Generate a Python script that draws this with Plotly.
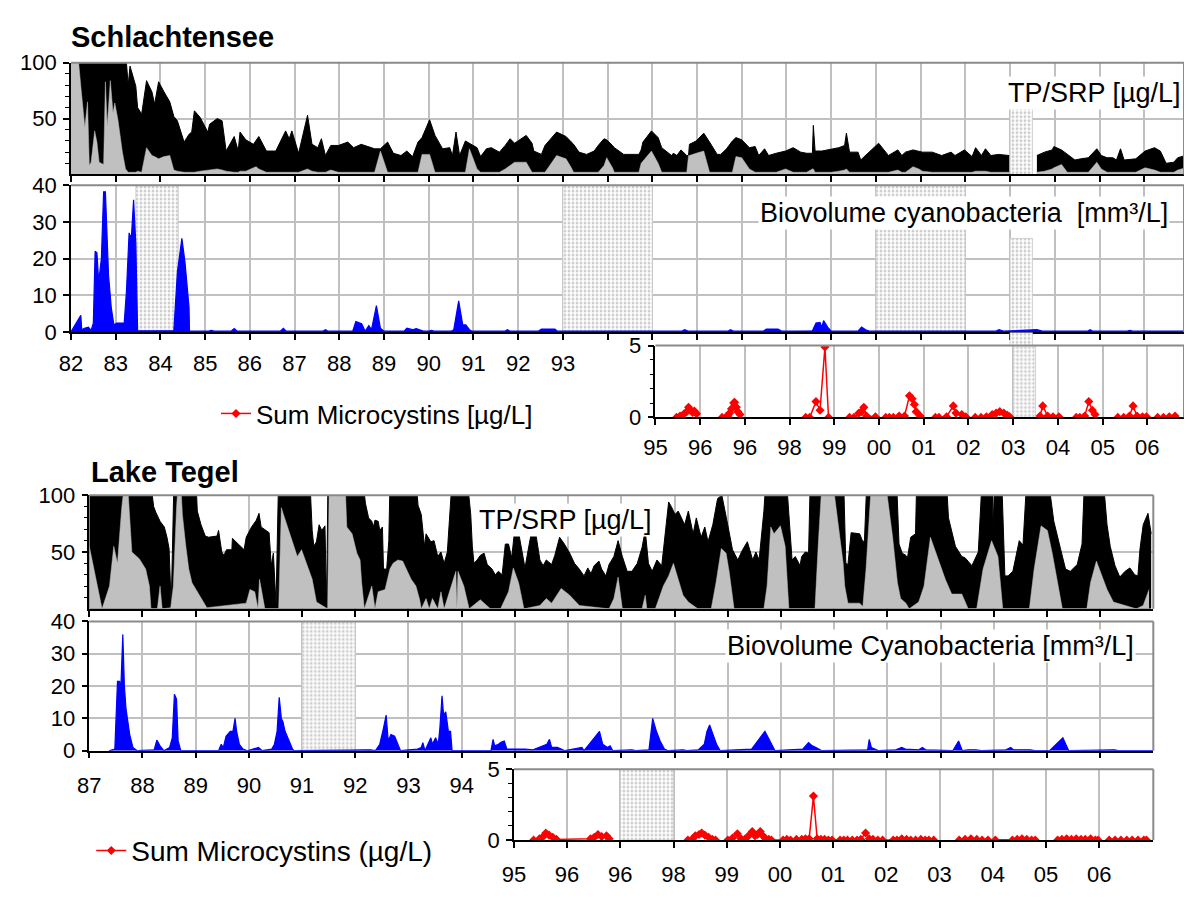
import plotly.graph_objects as go

# ---------------------------------------------------------------- data
# Schlachtensee: TP (black) and SRP (grey) [µg/L], same sampling dates
sch_tp_year = [1982.00, 1982.16, 1982.22, 1982.31, 1982.37, 1982.41, 1982.45, 1982.53, 1982.58, 1982.63,
               1982.73, 1982.77, 1982.81, 1982.88, 1982.94, 1982.98, 1983.05, 1983.15, 1983.22, 1983.28,
               1983.32, 1983.45, 1983.49, 1983.58, 1983.69, 1983.81, 1983.87, 1983.96, 1984.08, 1984.21,
               1984.30, 1984.38, 1984.53, 1984.64, 1984.70, 1984.76, 1984.89, 1985.06, 1985.10, 1985.27,
               1985.38, 1985.47, 1985.65, 1985.74, 1985.78, 1985.91, 1986.08, 1986.14, 1986.20, 1986.37,
               1986.58, 1986.80, 1986.88, 1986.94, 1987.09, 1987.29, 1987.39, 1987.52, 1987.60, 1987.69,
               1987.81, 1987.98, 1988.19, 1988.32, 1988.49, 1988.79, 1988.92, 1989.08, 1989.21, 1989.38,
               1989.51, 1989.64, 1989.76, 1989.85, 1990.02, 1990.14, 1990.31, 1990.47, 1990.53, 1990.61,
               1990.69, 1990.82, 1990.91, 1991.08, 1991.16, 1991.29, 1991.40, 1991.58, 1991.71, 1991.82,
               1991.92, 1992.18, 1992.31, 1992.35, 1992.52, 1992.60, 1992.86, 1993.07, 1993.19, 1993.24,
               1993.36, 1993.53, 1993.70, 1993.79, 1993.92, 1993.98, 1994.11, 1994.15, 1994.36, 1994.70,
               1994.75, 1994.79, 1994.98, 1995.13, 1995.21, 1995.43, 1995.47, 1995.55, 1995.64, 1995.77,
               1995.81, 1995.83, 1995.98, 1996.15, 1996.28, 1996.45, 1996.53, 1996.66, 1996.79, 1996.87,
               1997.00, 1997.17, 1997.30, 1997.38, 1997.51, 1997.60, 1997.77, 1997.98, 1998.15, 1998.32,
               1998.45, 1998.58, 1998.60, 1998.64, 1998.79, 1999.00, 1999.17, 1999.30, 1999.34, 1999.41,
               1999.60, 1999.66, 1999.85, 2000.06, 2000.28, 2000.49, 2000.58, 2000.66, 2000.83, 2000.96,
               2001.04, 2001.26, 2001.47, 2001.68, 2001.77, 2001.98, 2002.15, 2002.23, 2002.36, 2002.45,
               2002.57, 2002.74, 2002.98, 2003.25, 2003.60, 2003.77, 2003.94, 2003.98, 2004.15, 2004.28,
               2004.32, 2004.45, 2004.58, 2004.75, 2004.94, 2005.04, 2005.17, 2005.30, 2005.38, 2005.47,
               2005.55, 2005.81, 2006.02, 2006.23, 2006.36, 2006.49, 2006.66, 2006.75, 2006.92, 2007.00]
sch_tp = [130, 130, 130, 130, 130, 130, 130, 130, 130, 130,
          130, 130, 130, 130, 130, 130, 130, 130, 110, 80,
          97, 79, 60, 54, 84, 74, 63, 83, 74, 65,
          52, 48, 29, 36, 38, 57, 51, 38, 45, 50,
          48, 21, 34, 21, 38, 31, 27, 30, 34, 21,
          21, 39, 32, 39, 19, 53, 27, 24, 32, 17,
          26, 26, 29, 24, 27, 23, 23, 29, 19, 17,
          21, 16, 29, 33, 49, 35, 23, 24, 17, 38,
          17, 30, 28, 24, 16, 23, 24, 20, 26, 32,
          28, 35, 28, 21, 18, 26, 38, 34, 29, 27,
          20, 18, 21, 26, 32, 31, 26, 24, 18, 18,
          22, 29, 39, 33, 24, 17, 19, 17, 22, 17,
          17, 27, 30, 37, 29, 18, 18, 23, 30, 33,
          31, 24, 25, 17, 23, 17, 19, 21, 24, 20,
          19, 19, 44, 21, 21, 23, 24, 26, 37, 20,
          20, 13, 20, 28, 17, 22, 17, 20, 22, 21,
          20, 20, 17, 20, 17, 22, 16, 24, 17, 23,
          17, 18, 17, None, 17, 20, 22, 25, 22, 18,
          17, 13, 14, 15, 23, 17, 15, 15, 13, 23,
          13, 14, 21, 24, 21, 10, 11, 15, 17, 29]
sch_srp = [110, 105, 79, 42, 65, 8, 11, 39, 29, 11,
           9, 83, 43, 84, 55, 64, 49, 20, 5, 2,
           2, 2, 3, 2, 24, 17, 16, 14, 16, 17,
           4, 3, 2, 2, 2, 2, 3, 4, 4, 5,
           4, 3, 2, 2, 3, 3, 6, 7, 5, 2,
           2, 2, 2, 2, 2, 5, 3, 2, 2, 2,
           4, 2, 2, 2, 2, 2, 21, 2, 2, 2,
           2, 2, 2, 18, 18, 2, 2, 2, 2, 2,
           2, 2, 23, 5, 2, 2, 2, 2, 5, 8,
           11, 11, 2, 2, 2, 2, 17, 14, 6, 2,
           2, 2, 2, 2, 8, 15, 6, 2, 2, 2,
           10, 12, 21, 10, 2, 2, 2, 2, 2, 2,
           17, 17, 19, 21, 2, 2, 2, 2, 2, 16,
           15, 5, 2, 2, 2, 2, 2, 5, 2, 2,
           2, 5, 5, 2, 2, 2, 3, 4, 5, 2,
           2, 2, 2, 2, 2, 4, 2, 2, 7, 5,
           3, 2, 2, 2, 2, 2, 2, 3, 3, 3,
           2, 2, 2, None, 2, 3, 5, 6, 9, 2,
           2, 2, 2, 2, 11, 5, 2, 2, 2, 2,
           2, 2, 6, 4, 2, 2, 2, 4, 6, 8]

# Schlachtensee: biovolume cyanobacteria [mm³/L]
sch_bio_year = [1982.00, 1982.22, 1982.24, 1982.30, 1982.39, 1982.45, 1982.50, 1982.54, 1982.58, 1982.62,
                1982.68, 1982.73, 1982.77, 1982.84, 1982.90, 1982.96, 1983.02, 1983.19, 1983.24, 1983.30,
                1983.35, 1983.40, 1983.45, 1983.49, 1984.30, 1984.38, 1984.48, 1984.55, 1984.64, 1984.65,
                1985.08, 1985.14, 1985.20, 1985.58, 1985.65, 1985.72, 1986.68, 1986.75, 1986.81, 1987.63,
                1987.69, 1987.75, 1988.30, 1988.37, 1988.50, 1988.58, 1988.66, 1988.72, 1988.83, 1988.92,
                1989.00, 1989.45, 1989.51, 1989.64, 1989.72, 1989.81, 1989.88, 1990.00, 1990.06, 1990.12,
                1990.50, 1990.56, 1990.67, 1990.76, 1990.83, 1990.91, 1990.97, 1991.70, 1991.76, 1991.82,
                1992.45, 1992.52, 1992.82, 1992.88, 1995.04, 1995.66, 1995.72, 1995.80, 1996.69, 1996.75,
                1996.82, 1997.48, 1997.55, 1997.81, 1997.90, 1998.22, 1998.28, 1998.34, 1998.58, 1998.66,
                1998.75, 1998.79, 1998.83, 1998.92, 1999.00, 1999.60, 1999.68, 1999.77, 1999.85, 2002.68,
                2002.75, 2002.85, 2003.60, 2003.72, 2004.73, 2004.79, 2004.85, 2005.62, 2005.68, 2005.74,
                2007.00]
sch_bio = [0, 4.5, 0.6, 1.0, 1.3, 0.4, 2.4, 22, 21.6, 13.7,
           20, 38.2, 38.2, 15.5, 6.7, 1.9, 2.4, 2.4, 11, 27,
           25.5, 36, 24, 0.3, 0.3, 16.4, 25.5, 19, 6.7, 0.2,
           0.2, 0.4, 0.2, 0.2, 0.9, 0.2, 0.2, 1.0, 0.2, 0.2,
           0.6, 0.2, 0.2, 2.8, 2.2, 0.2, 1.7, 0.6, 7.2, 1.0,
           0.2, 0.2, 1.0, 0.6, 0.9, 0.6, 0.2, 0.2, 0.4, 0.2,
           0.2, 0.6, 8.5, 1.9, 1.9, 0.6, 0.2, 0.2, 0.6, 0.2,
           0.2, 0.8, 0.8, 0.2, 0.2, 0.2, 0.6, 0.2, 0.2, 0.6,
           0.2, 0.2, 0.8, 0.8, 0.2, 0.2, 0.4, 0.2, 0.3, 2.4,
           2.6, 1.3, 3.1, 1.3, 0.2, 0.2, 1.3, 0.6, 0.2, 0.2,
           0.6, 0.2, 0.6, 0.2, 0.2, 0.6, 0.2, 0.2, 0.4, 0.2,
           0.2]

# Schlachtensee: sum of microcystins [µg/L] (None = no sampling in between)
sch_mc_year = [1995.47, 1995.55, 1995.64, 1995.70, 1995.74, 1995.78, 1995.83, 1995.87, 1995.92, None,
               1996.49, 1996.57, 1996.62, 1996.66, 1996.70, 1996.75, 1996.77, 1996.81, 1996.84, 1996.89, None,
               1998.36, 1998.45, 1998.59, 1998.68, 1998.79, 1998.87, None,
               1999.34, 1999.44, 1999.55, 1999.61, 1999.66, 1999.72, 1999.92, None,
               2000.15, 2000.23, 2000.32, 2000.45, 2000.57, 2000.68, 2000.74, 2000.79, 2000.83, 2000.92, None,
               2001.26, 2001.34, 2001.51, 2001.66, 2001.72, 2001.85, 2001.94, None,
               2002.15, 2002.28, 2002.40, 2002.53, 2002.62, 2002.70, 2002.79, 2002.87, 2002.92, None,
               2003.60, 2003.66, 2003.77, 2003.89, 2004.02, None,
               2004.41, 2004.49, 2004.60, 2004.69, 2004.77, 2004.83, None,
               2005.34, 2005.47, 2005.60, 2005.68, 2005.77, 2005.89, 2005.98, None,
               2006.23, 2006.36, 2006.49, 2006.62]
sch_mc = [0, 0.1, 0.25, 0.4, 0.7, 0.5, 0.35, 0.45, 0.25, None,
          0, 0, 0.1, 0.3, 0.6, 1.0, 1.05, 0.7, 0.4, 0.2, None,
          0, 0, 1.1, 0.5, 4.9, 0, None,
          0, 0, 0.3, 0.4, 0.7, 0.1, 0.05, None,
          0, 0, 0, 0.1, 0.1, 1.5, 1.3, 0.9, 0.4, 0.1, None,
          0, 0, 0.05, 0.8, 0.3, 0.2, 0.05, None,
          0, 0, 0.05, 0.2, 0.3, 0.4, 0.3, 0.15, 0.05, None,
          0.1, 0.8, 0.1, 0.05, 0.05, None,
          0, 0, 0.1, 1.1, 0.5, 0.2, None,
          0, 0, 0.1, 0.8, 0.1, 0.05, 0.05, None,
          0, 0, 0.05, 0.1]

# Schlachtensee: periods without data (hatched), in panel units
sch_tp_gap_start, sch_tp_gap_end, sch_tp_gap_low, sch_tp_gap_high = [2003.0], [2003.5], [0], [60]
sch_bio_gap_start = [1983.45, 1993.0, 2000.0, 2003.0]
sch_bio_gap_end = [1984.40, 1995.0, 2002.0, 2003.5]
sch_bio_gap_low = [0, 0, 0, 0]
sch_bio_gap_high = [40, 40, 40, 25.5]
sch_mc_gap_start, sch_mc_gap_end, sch_mc_gap_low, sch_mc_gap_high = [2003.0], [2003.5], [0], [5]

# Lake Tegel: TP (black) [µg/L]
teg_tp_year = [1987.00, 1987.24, 1987.61, 1987.73, 1988.13, 1988.17, 1988.21, 1988.25, 1988.33, 1988.41,
               1988.46, 1988.50, 1988.54, 1988.59, 1988.64, 1988.99, 1989.03, 1989.10, 1989.18, 1989.24,
               1989.40, 1989.43, 1989.49, 1989.53, 1989.58, 1989.68, 1989.69, 1989.80, 1989.91, 1989.95,
               1990.05, 1990.14, 1990.19, 1990.23, 1990.38, 1990.42, 1990.46, 1990.51, 1990.56, 1990.61,
               1991.13, 1991.19, 1991.22, 1991.27, 1991.32, 1991.37, 1991.43, 1991.46, 1991.49, 1992.15,
               1992.19, 1992.25, 1992.31, 1992.34, 1992.37, 1992.43, 1992.46, 1992.51, 1992.53, 1992.59,
               1992.63, 1992.66, 1993.11, 1993.18, 1993.24, 1993.30, 1993.33, 1993.42, 1993.48, 1993.55,
               1993.61, 1993.67, 1993.73, 1993.80, 1993.86, 1994.07, 1994.14, 1994.17, 1994.20, 1994.23,
               1994.29, 1994.35, 1994.42, 1994.48, 1994.57, 1994.63, 1994.69, 1994.76, 1994.82, 1994.88,
               1994.94, 1994.99, 1995.07, 1995.13, 1995.19, 1995.25, 1995.31, 1995.39, 1995.47, 1995.53,
               1995.59, 1995.69, 1995.75, 1995.84, 1995.93, 1996.03, 1996.12, 1996.21, 1996.30, 1996.37,
               1996.43, 1996.49, 1996.58, 1996.63, 1996.71, 1996.77, 1996.86, 1996.94, 1997.02, 1997.11,
               1997.20, 1997.30, 1997.39, 1997.45, 1997.51, 1997.58, 1997.67, 1997.76, 1997.82, 1997.89,
               1997.95, 1998.01, 1998.07, 1998.13, 1998.19, 1998.26, 1998.35, 1998.41, 1998.50, 1998.57,
               1998.63, 1998.72, 1998.81, 1998.89, 1998.94, 1999.00, 1999.09, 1999.19, 1999.28, 1999.37,
               1999.47, 1999.53, 1999.59, 1999.68, 1999.74, 2000.08, 2000.15, 2000.21, 2000.27, 2000.36,
               2000.39, 2000.46, 2000.52, 2000.56, 2001.17, 2001.22, 2001.26, 2001.32, 2001.48, 2001.51,
               2001.54, 2001.57, 2001.63, 2002.16, 2002.22, 2002.28, 2002.35, 2002.38, 2002.44, 2002.53,
               2002.56, 2003.09, 2003.15, 2003.28, 2003.40, 2003.46, 2003.52, 2003.59, 2003.71, 2003.80,
               2003.96, 2003.99, 2004.03, 2004.14, 2004.21, 2004.27, 2004.36, 2004.42, 2004.48, 2004.55,
               2004.64, 2004.98, 2005.13, 2005.26, 2005.35, 2005.44, 2005.57, 2005.66, 2005.72, 2006.03,
               2006.13, 2006.19, 2006.28, 2006.37, 2006.47, 2006.56, 2006.65, 2006.71, 2006.75, 2006.81,
               2006.90, 2006.96]
teg_tp = [130, 130, 130, 130, 120, 105, 90, 85, 77, 72,
          63, 53, 3, 110, 130, 130, 86, 74, 64, 63,
          64, 69, 50, 47, 52, 52, 62, 57, 52, 63,
          72, 78, 84, 72, 67, 38, 49, 4, 120, 130,
          130, 69, 55, 59, 74, 69, 73, 3, 130, 110,
          93, 80, 77, 72, 78, 77, 69, 72, 35, 35,
          60, 130, 130, 91, 83, 55, 66, 59, 60, 46,
          50, 40, 50, 100, 130, 130, 100, 83, 55, 40,
          43, 47, 49, 39, 35, 30, 33, 30, 57, 57,
          45, 67, 67, 52, 36, 52, 67, 67, 43, 38,
          43, 39, 47, 63, 57, 49, 40, 35, 29, 36,
          31, 38, 42, 35, 29, 39, 46, 60, 46, 33,
          33, 40, 54, 69, 40, 33, 43, 38, 66, 94,
          89, 83, 86, 80, 74, 86, 66, 80, 63, 72,
          59, 74, 97, 100, 89, 74, 52, 43, 52, 59,
          43, 50, 43, 86, 130, 130, 83, 43, 46, 38,
          46, 50, 49, 130, 130, 40, 39, 67, 66, 63,
          59, 60, 130, 130, 57, 49, 47, 45, 63, 66,
          130, 130, 80, 55, 46, 45, 42, 38, 50, 130,
          130, 72, 130, 130, 29, 29, 33, 46, 60, 56,
          130, 130, 77, 52, 35, 33, 39, 57, 130, 130,
          74, 55, 38, 28, 33, 36, 30, 29, 53, 74,
          84, 66]

# Lake Tegel: SRP (grey) [µg/L]
teg_srp_year = [1987.00, 1987.24, 1987.38, 1987.46, 1987.53, 1987.61, 1987.66, 1987.72, 1987.80, 1987.94,
                1988.06, 1988.13, 1988.16, 1988.28, 1988.33, 1988.37, 1988.53, 1988.58, 1988.64, 1988.67,
                1988.72, 1988.75, 1988.81, 1988.87, 1988.93, 1989.03, 1989.12, 1989.21, 1989.95, 1990.02,
                1990.11, 1990.17, 1990.20, 1990.30, 1990.56, 1990.61, 1990.65, 1990.73, 1990.82, 1990.91,
                1990.99, 1991.10, 1991.19, 1991.27, 1991.48, 1991.51, 1991.81, 1991.84, 1991.94, 1992.03,
                1992.09, 1992.12, 1992.17, 1992.31, 1992.37, 1992.43, 1992.56, 1992.65, 1992.71, 1992.80,
                1992.89, 1992.99, 1993.05, 1993.14, 1993.21, 1993.24, 1993.33, 1993.39, 1993.45, 1993.55,
                1993.61, 1993.67, 1993.80, 1993.89, 1993.91, 1993.93, 1994.04, 1994.14, 1994.35, 1994.54,
                1994.73, 1994.88, 1994.97, 1995.07, 1995.17, 1995.47, 1995.59, 1995.69, 1995.87, 1996.03,
                1996.21, 1996.77, 1996.86, 1996.94, 1997.02, 1997.39, 1997.45, 1997.48, 1997.64, 1997.79,
                1997.89, 1997.98, 1998.07, 1998.16, 1998.26, 1998.44, 1998.69, 1998.78, 1998.88, 1998.97,
                1999.03, 1999.12, 1999.68, 1999.74, 1999.81, 1999.87, 1999.99, 2000.08, 2000.15, 2000.64,
                2000.70, 2000.77, 2000.98, 2001.08, 2001.17, 2001.20, 2001.26, 2001.48, 2001.54, 2001.60,
                2001.70, 2001.97, 2002.04, 2002.10, 2002.19, 2002.25, 2002.35, 2002.41, 2002.59, 2002.69,
                2002.81, 2002.97, 2003.09, 2003.21, 2003.40, 2003.52, 2003.68, 2003.80, 2003.96, 2004.08,
                2004.17, 2004.67, 2004.76, 2004.89, 2005.01, 2005.10, 2005.29, 2005.75, 2005.82, 2005.93,
                2006.03, 2006.13, 2006.25, 2006.68, 2006.81, 2006.92]
teg_srp = [55, 0, 20, 55, 40, 89, 110, 110, 50, 44,
           35, 20, 0, 0, 20, 0, 1, 20, 89, 110,
           110, 83, 57, 35, 23, 15, 8, 1, 5, 17,
           15, 0, 26, 0, 0, 89, 83, 72, 60, 46,
           52, 38, 26, 6, 0, 110, 110, 72, 66, 49,
           43, 23, 0, 20, 0, 15, 17, 35, 40, 43,
           42, 32, 26, 20, 8, 0, 9, 0, 9, 0,
           15, 0, 20, 33, 0, 33, 20, 0, 8, 0,
           0, 15, 36, 23, 0, 3, 9, 5, 18, 12,
           3, 0, 9, 28, 0, 0, 12, 0, 0, 20,
           29, 40, 26, 12, 6, 0, 0, 23, 53, 49,
           32, 0, 0, 20, 72, 66, 73, 55, 0, 0,
           55, 110, 110, 74, 40, 20, 5, 5, 2, 35,
           110, 110, 86, 63, 23, 9, 5, 0, 6, 20,
           63, 42, 26, 13, 13, 0, 0, 35, 60, 46,
           0, 0, 35, 73, 69, 49, 0, 0, 23, 42,
           29, 17, 6, 0, 3, 17]

# Lake Tegel: biovolume cyanobacteria [mm³/L]
teg_bio_year = [1987.37, 1987.48, 1987.53, 1987.57, 1987.59, 1987.63, 1987.66, 1987.69, 1987.76, 1987.82,
                1987.90, 1988.22, 1988.27, 1988.33, 1988.40, 1988.51, 1988.56, 1988.60, 1988.64, 1988.67,
                1988.72, 1989.43, 1989.48, 1989.52, 1989.57, 1989.65, 1989.70, 1989.74, 1989.77, 1989.82,
                1989.89, 1989.97, 1990.18, 1990.25, 1990.43, 1990.48, 1990.53, 1990.57, 1990.61, 1990.64,
                1990.68, 1990.75, 1990.82, 1990.85, 1992.17, 1992.28, 1992.38, 1992.46, 1992.53, 1992.58,
                1992.62, 1992.67, 1992.74, 1992.80, 1992.85, 1993.17, 1993.24, 1993.27, 1993.31, 1993.42,
                1993.45, 1993.51, 1993.56, 1993.59, 1993.63, 1993.66, 1993.70, 1993.75, 1993.79, 1993.82,
                1994.55, 1994.59, 1994.62, 1994.69, 1994.73, 1994.80, 1994.85, 1995.19, 1995.34, 1995.60,
                1995.65, 1995.69, 1995.80, 1995.87, 1995.94, 1996.26, 1996.30, 1996.59, 1996.65, 1996.74,
                1996.79, 1996.84, 1997.20, 1997.27, 1997.52, 1997.59, 1997.66, 1997.73, 1997.81, 1997.88,
                1998.16, 1998.23, 1998.45, 1998.56, 1998.61, 1998.66, 1998.72, 1998.79, 1998.86, 1999.13,
                1999.27, 1999.45, 1999.70, 1999.89, 2000.16, 2000.27, 2000.41, 2000.52, 2000.59, 2000.66,
                2000.77, 2001.63, 2001.66, 2001.70, 2001.77, 2001.84, 2002.16, 2002.27, 2002.34, 2002.59,
                2002.66, 2002.72, 2003.23, 2003.34, 2003.41, 2003.52, 2003.66, 2003.77, 2004.23, 2004.32,
                2004.37, 2004.69, 2004.77, 2005.05, 2005.30, 2005.41, 2006.27, 2006.34, 2007.00]
teg_bio = [0, 0.5, 21.5, 21.5, 18, 36, 20, 13, 5, 1,
           0, 0.3, 3.3, 1.5, 0, 1, 4, 17.5, 16, 3,
           0, 0, 2, 1, 4.5, 6, 6, 10, 6, 2,
           0.5, 0, 1, 0, 0.5, 2, 6, 16.5, 10, 9,
           6, 3, 0.5, 0, 0.3, 0.3, 0, 2, 7, 11,
           3, 5, 4.5, 2, 0, 0.5, 1, 2.5, 0, 4,
           2, 4, 2, 7, 17, 11, 12, 6, 6, 0,
           0, 3.5, 1.5, 2, 2.5, 3, 0.5, 0.5, 0.3, 2,
           3.5, 1, 1, 0.5, 0, 1, 0, 6, 2, 1,
           1.5, 0, 0.3, 0, 0.3, 10, 6, 3, 0.5, 0,
           0.3, 0, 0.3, 2, 6, 8, 5, 2, 0, 0.3,
           0.3, 0.5, 6, 0, 0.3, 0.3, 0.5, 2.5, 1.5, 1,
           0, 0.3, 3.5, 1, 0.5, 0, 0.3, 1, 0.5, 0.3,
           1, 0.3, 0, 3, 0, 0.3, 0.3, 0, 0.3, 1,
           0.3, 0.3, 0, 0, 4, 0, 0.3, 0, 0]

# Lake Tegel: sum of microcystins [µg/L]
teg_mc_year = [1995.37, 1995.48, 1995.55, 1995.60, 1995.66, 1995.73, 1995.80, 1996.44, 1996.51, 1996.58,
               1996.65, 1996.74, 1996.79, None,
               1998.27, 1998.36, 1998.41, 1998.48, 1998.53, 1998.59, 1998.66, 1998.73, 1998.79, None,
               1999.02, 1999.11, 1999.20, 1999.27, 1999.34, 1999.41, 1999.48, 1999.53, 1999.58, 1999.63,
               1999.68, 1999.73, 1999.79, 1999.84, 2000.06, 2000.13, 2000.20, 2000.31, 2000.41, 2000.48,
               2000.55, 2000.63, 2000.70, 2000.77, 2000.84, 2000.91, 2000.98, 2001.13, 2001.20, 2001.27,
               2001.36, 2001.45, 2001.52, 2001.61, 2001.68, 2001.75, 2001.84, 2001.93, 2002.13, 2002.20,
               2002.29, 2002.38, 2002.46, 2002.55, 2002.65, 2002.73, 2002.80, 2002.89, None,
               2003.37, 2003.48, 2003.59, 2003.70, 2003.80, 2003.91, 2004.05, 2004.37, 2004.46, 2004.55,
               2004.64, 2004.73, 2004.80, None,
               2005.22, 2005.30, 2005.39, 2005.48, 2005.57, 2005.66, 2005.74, 2005.84, 2005.93, 2005.98, None,
               2006.19, 2006.30, 2006.41, 2006.52, 2006.62, 2006.73, 2006.84, 2006.89]
teg_mc = [0, 0.1, 0.25, 0.5, 0.35, 0.2, 0.05, 0.1, 0.2, 0.4,
          0.25, 0.3, 0.1, None,
          0, 0.1, 0.3, 0.4, 0.5, 0.35, 0.2, 0.05, 0, None,
          0, 0.15, 0.45, 0.1, 0.05, 0.3, 0.6, 0.3, 0.4, 0.6,
          0.3, 0.1, 0.05, 0, 0, 0.05, 0, 0.05, 0.05, 0.1,
          0.1, 3.1, 0.1, 0.05, 0.05, 0, 0, 0, 0, 0,
          0, 0, 0.05, 0.5, 0.1, 0.05, 0, 0, 0, 0,
          0.1, 0.05, 0, 0, 0.05, 0, 0, 0, None,
          0, 0.05, 0.1, 0.05, 0, 0, 0, 0, 0.05, 0.1,
          0.05, 0, 0, None,
          0, 0.05, 0.1, 0.05, 0.1, 0.05, 0.05, 0.1, 0, 0, None,
          0, 0, 0, 0, 0, 0, 0, 0]

teg_bio_gap_start, teg_bio_gap_end, teg_bio_gap_low, teg_bio_gap_high = [1991.0], [1992.0], [0], [40]
teg_mc_gap_start, teg_mc_gap_end, teg_mc_gap_low, teg_mc_gap_high = [1997.0], [1998.0], [0], [5]
# bridge between biovolume panel and microcystin inset (Schlachtensee 2003 gap)
sch_bridge_start, sch_bridge_end = [2003.0], [2003.5]

# tick labels
sch_years = list(range(1982, 2007))
sch_year_text = ['82', '83', '84', '85', '86', '87', '88', '89', '90', '91', '92', '93'] + [''] * 13
teg_years = list(range(1987, 2007))
teg_year_text = ['87', '88', '89', '90', '91', '92', '93', '94'] + [''] * 12
mc_years = list(range(1995, 2007))
mc_year_text = ['95', '96', '96', '98', '99', '00', '01', '02', '03', '04', '05', '06']

# ---------------------------------------------------------------- layout helpers
# The page body keeps the browser's default 8 px margin, so the figure is drawn
# 16 px smaller than the window and all page positions are shifted by 8 px.
W, H = 1192, 899
OFF = 8
FW, FH = W - 2 * OFF, H - 2 * OFF
FONT = 'Liberation Sans, Arial, sans-serif'
GRID = '#c0c0c0'
BORDER = '#8a8a8a'


def fx(p):
    return min(max((p - OFF) / FW, 0), 1)


def fy(p):
    return min(max(1 - (p - OFF) / FH, 0), 1)


# horizontal year scales (page px of a year position, px per year)
SCH_X0, SCH_PPY = 59.5, 45.18
TEG_X0, TEG_PPY = 78.0, 53.75
SCH_RIGHT = min(1189, OFF + FW)
TEG_RIGHT = 1153
sch_range = [1982, 1982 + (SCH_RIGHT - SCH_X0) / SCH_PPY]
sch_mc_left = 650
sch_mc_range = [1995, 1995 + (SCH_RIGHT - sch_mc_left) / SCH_PPY]
teg_range = [1987, 1987 + (TEG_RIGHT - TEG_X0) / TEG_PPY]
teg_mc_left = 507
teg_mc_range = [1995, 1995 + (TEG_RIGHT - teg_mc_left) / TEG_PPY]

fig = go.Figure()


def segments(xs, ys):
    seg_x, seg_y = [], []
    for x, y in zip(xs, ys):
        if x is None or y is None:
            if seg_x:
                yield seg_x, seg_y
            seg_x, seg_y = [], []
        else:
            seg_x.append(x)
            seg_y.append(y)
    if seg_x:
        yield seg_x, seg_y


def add_gaps(starts, ends, lows, highs, xa, ya):
    fig.add_trace(go.Bar(
        x=[(s + e) / 2 for s, e in zip(starts, ends)],
        y=[h - l for l, h in zip(lows, highs)],
        base=lows,
        width=[e - s for s, e in zip(starts, ends)],
        xaxis=xa, yaxis=ya, showlegend=False, hoverinfo='skip',
        marker=dict(color='white',
                    pattern=dict(shape='.', fgcolor='#9a9a9a', bgcolor='white', size=4, solidity=0.4),
                    line=dict(color='#c8c8c8', width=0.8))))


def add_area(xs, ys, color, width, xa, ya):
    for sx, sy in segments(xs, ys):
        fig.add_trace(go.Scatter(x=sx, y=sy, mode='lines', fill='tozeroy', fillcolor=color,
                                 line=dict(color=color, width=width), xaxis=xa, yaxis=ya,
                                 showlegend=False, hoverinfo='skip'))


def add_mc(years, vals, xa, ya, name, legend):
    fig.add_trace(go.Scatter(x=years, y=vals, mode='lines+markers', name=name, legend=legend,
                             line=dict(color='#ff0000', width=1.5),
                             marker=dict(symbol='diamond', size=7, color='#ff0000'),
                             xaxis=xa, yaxis=ya, connectgaps=False, showlegend=True, hoverinfo='skip'))


# ---------------------------------------------------------------- traces
add_gaps(sch_tp_gap_start, sch_tp_gap_end, sch_tp_gap_low, sch_tp_gap_high, 'x', 'y')
add_gaps(sch_bio_gap_start, sch_bio_gap_end, sch_bio_gap_low, sch_bio_gap_high, 'x2', 'y2')
add_gaps(sch_mc_gap_start, sch_mc_gap_end, sch_mc_gap_low, sch_mc_gap_high, 'x3', 'y3')
add_gaps(sch_bridge_start, sch_bridge_end, [0], [1], 'x7', 'y7')
add_gaps(teg_bio_gap_start, teg_bio_gap_end, teg_bio_gap_low, teg_bio_gap_high, 'x5', 'y5')
add_gaps(teg_mc_gap_start, teg_mc_gap_end, teg_mc_gap_low, teg_mc_gap_high, 'x6', 'y6')

add_area(sch_tp_year, sch_tp, 'black', 1, 'x', 'y')
add_area(sch_tp_year, sch_srp, '#c0c0c0', 0.5, 'x', 'y')
add_area(sch_bio_year, sch_bio, '#0000ff', 1.2, 'x2', 'y2')
add_mc(sch_mc_year, sch_mc, 'x3', 'y3', 'Sum Microcystins [µg/L]', 'legend')

add_area(teg_tp_year, teg_tp, 'black', 1, 'x4', 'y4')
add_area(teg_srp_year, teg_srp, '#c0c0c0', 0.5, 'x4', 'y4')
add_area(teg_bio_year, teg_bio, '#0000ff', 1.2, 'x5', 'y5')
add_mc(teg_mc_year, teg_mc, 'x6', 'y6', 'Sum Microcystins (µg/L)', 'legend2')

# ---------------------------------------------------------------- axes
TICKFONT = dict(family=FONT, size=22, color='black')


def xax(left, right, rng, tickvals, ticktext, anchor, show_labels=True, standoff=0):
    return dict(domain=[fx(left), fx(right)], range=rng, anchor=anchor,
                tickmode='array', tickvals=tickvals, ticktext=ticktext,
                showticklabels=show_labels, ticks='outside', ticklen=6, tickwidth=1.5, tickcolor='black',
                ticklabelstandoff=standoff,
                showgrid=True, gridcolor=GRID, gridwidth=1.5, zeroline=False,
                showline=True, linecolor='black', linewidth=1.5, tickfont=TICKFONT, fixedrange=True)


def yax(top, bottom, rng, tickvals, anchor, minor_vals, grid=True):
    return dict(domain=[fy(bottom), fy(top)], range=rng, anchor=anchor,
                tickmode='array', tickvals=tickvals, ticktext=[str(v) for v in tickvals],
                ticks='outside', ticklen=6, tickwidth=1.5, tickcolor='black', ticklabelstandoff=2,
                minor=dict(tickmode='array', tickvals=minor_vals, ticks='outside', ticklen=4,
                           tickwidth=1, tickcolor='black', showgrid=False),
                showgrid=grid, gridcolor=GRID, gridwidth=1.5, zeroline=False,
                showline=True, linecolor='black', linewidth=1.5, tickfont=TICKFONT, fixedrange=True)


tp_minor = [10, 20, 30, 40, 60, 70, 80, 90]
mc_minor = [1, 2, 3, 4]

fig.update_layout(
    xaxis=xax(SCH_X0, SCH_RIGHT, sch_range, sch_years, sch_year_text, 'y', show_labels=False),
    yaxis=yax(52, 167, [0, 100], [50, 100], 'x', tp_minor),
    xaxis2=xax(SCH_X0, SCH_RIGHT, sch_range, sch_years, sch_year_text, 'y2', standoff=5),
    yaxis2=yax(178, 329, [0, 40], [0, 10, 20, 30, 40], 'x2', []),
    xaxis3=xax(sch_mc_left, SCH_RIGHT, sch_mc_range, mc_years, mc_year_text, 'y3', standoff=3),
    yaxis3=yax(343, 417, [0, 5], [0, 5], 'x3', mc_minor, grid=False),
    xaxis4=xax(TEG_X0, TEG_RIGHT, teg_range, teg_years, teg_year_text, 'y4', show_labels=False),
    yaxis4=yax(497, 614, [0, 100], [50, 100], 'x4', tp_minor),
    xaxis5=xax(TEG_X0, TEG_RIGHT, teg_range, teg_years, teg_year_text, 'y5', standoff=8),
    yaxis5=yax(627, 760, [0, 40], [0, 10, 20, 30, 40], 'x5', []),
    xaxis6=xax(teg_mc_left, TEG_RIGHT, teg_mc_range, mc_years, mc_year_text, 'y6', standoff=8),
    yaxis6=yax(779, 852, [0, 5], [0, 5], 'x6', mc_minor, grid=False),
    xaxis7=dict(domain=[fx(SCH_X0), fx(SCH_RIGHT)], range=sch_range, anchor='y7', visible=False, fixedrange=True),
    yaxis7=dict(domain=[fy(343), fy(329.5)], range=[0, 1], anchor='x7', visible=False, fixedrange=True),
)

# top / right borders of every panel
shapes = []
for xa, ya in [('x', 'y'), ('x2', 'y2'), ('x3', 'y3'), ('x4', 'y4'), ('x5', 'y5'), ('x6', 'y6')]:
    shapes.append(dict(type='line', xref=xa + ' domain', yref=ya + ' domain', x0=0, x1=1, y0=1, y1=1,
                       line=dict(color=BORDER, width=2), layer='above'))
    shapes.append(dict(type='line', xref=xa + ' domain', yref=ya + ' domain', x0=1, x1=1, y0=0, y1=1,
                       line=dict(color=BORDER, width=2), layer='above'))

LABELFONT = dict(family=FONT, size=27, color='black')
annotations = [
    dict(text='<b>Schlachtensee</b>', x=fx(58), y=fy(25), xref='paper', yref='paper',
         xanchor='left', yanchor='middle', showarrow=False, font=dict(family=FONT, size=29, color='black')),
    dict(text='<b>Lake Tegel</b>', x=fx(78), y=fy(473), xref='paper', yref='paper',
         xanchor='left', yanchor='middle', showarrow=False, font=dict(family=FONT, size=29, color='black')),
    dict(text='TP/SRP [µg/L]', x=fx(1183), y=fy(83), xref='paper', yref='paper',
         xanchor='right', yanchor='middle', showarrow=False, bgcolor='white', borderpad=1, font=LABELFONT),
    dict(text='Biovolume cyanobacteria  [mm³/L]', x=fx(1170), y=fy(207), xref='paper', yref='paper',
         xanchor='right', yanchor='middle', showarrow=False, bgcolor='white', borderpad=1, font=LABELFONT),
    dict(text='TP/SRP [µg/L]', x=fx(470), y=fy(523), xref='paper', yref='paper',
         xanchor='left', yanchor='middle', showarrow=False, bgcolor='white', borderpad=1, font=LABELFONT),
    dict(text='Biovolume Cyanobacteria [mm³/L]', x=fx(1136), y=fy(652), xref='paper', yref='paper',
         xanchor='right', yanchor='middle', showarrow=False, bgcolor='white', borderpad=1, font=LABELFONT),
]

fig.update_layout(
    width=FW, height=FH, margin=dict(l=0, r=0, t=0, b=0), autosize=False,
    paper_bgcolor='white', plot_bgcolor='white',
    barmode='overlay', font=dict(family=FONT, color='black'),
    shapes=shapes, annotations=annotations,
    legend=dict(x=fx(206), y=fy(413), xanchor='left', yanchor='middle', bgcolor='rgba(0,0,0,0)',
                font=dict(family=FONT, size=26, color='black'), itemwidth=30),
    legend2=dict(x=fx(80), y=fy(863), xanchor='left', yanchor='middle', bgcolor='rgba(0,0,0,0)',
                 font=dict(family=FONT, size=28, color='black'), itemwidth=30),
)

fig.write_html("out.html", config={'displayModeBar': False, 'responsive': False})
